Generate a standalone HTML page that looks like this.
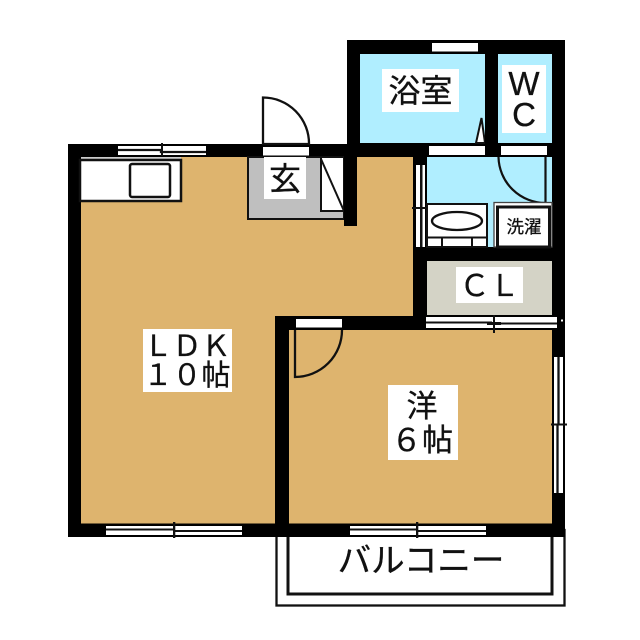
<!DOCTYPE html>
<html><head><meta charset="utf-8">
<style>html,body{margin:0;padding:0;background:#fff}svg{display:block}
text{font-family:"Liberation Sans","Noto Sans CJK JP",sans-serif;fill:#111;stroke:#111;stroke-width:.3;text-anchor:middle}</style></head>
<body>
<svg width="640" height="640" viewBox="0 0 640 640" xmlns="http://www.w3.org/2000/svg">
<rect width="640" height="640" fill="#fff"/>
<!-- balcony -->
<rect x="276.500" y="530" width="288" height="75.500" fill="#fff" stroke="#111" stroke-width="2.300"/>
<rect x="288" y="530" width="264" height="64" fill="#fff" stroke="#111" stroke-width="3"/>
<!-- walls base -->
<rect x="68" y="144" width="497" height="393" fill="#000"/>
<rect x="347" y="40" width="218" height="110" fill="#000"/>
<rect x="68" y="90" width="279" height="54" fill="#fff"/>
<!-- rooms -->
<path d="M81 157H344V226H357V157H413V316H275V523.500H81Z" fill="#DEB46E"/>
<rect x="289" y="330" width="263" height="193.500" fill="#DEB46E"/>
<rect x="360" y="54" width="125" height="89" fill="#B0EEFF"/>
<rect x="498" y="54" width="54" height="89" fill="#B0EEFF"/>
<rect x="427" y="157" width="125" height="90" fill="#B0EEFF"/>
<rect x="427" y="261" width="125" height="54" fill="#D4D3C6"/>
<!-- entrance -->
<rect x="248" y="157" width="96" height="62" fill="#BFBFBF" stroke="#111" stroke-width="2"/>
<rect x="321" y="157" width="23" height="54" fill="#fff" stroke="#111" stroke-width="2"/>
<path d="M321 159L344 211" stroke="#111" stroke-width="2" fill="none"/>
<rect x="344" y="144" width="13" height="82" fill="#000"/>
<rect x="264" y="157" width="42" height="42" fill="#fff"/>
<!-- entrance door -->
<path d="M263 144V97.500A46 46 0 0 1 309 144Z" fill="#fff" stroke="#111" stroke-width="2.300"/>
<rect x="263" y="147" width="46" height="8.500" fill="#fff"/>
<!-- kitchen -->
<rect x="81" y="157" width="100" height="3" fill="#ccc"/>
<rect x="80" y="160" width="101" height="41" fill="#fff" stroke="#111" stroke-width="2.500"/>
<rect x="130" y="164" width="40" height="33" rx="2" fill="#fff" stroke="#111" stroke-width="2.500"/>
<!-- kitchen window -->
<rect x="118" y="146" width="88" height="9" fill="#fff"/>
<path d="M118 150H161V152H206" stroke="#111" stroke-width="2.300" fill="none"/>
<rect x="161" y="143" width="2" height="13" fill="#111"/>
<!-- bath top window -->
<rect x="432" y="43" width="46" height="8.500" fill="#fff"/>
<rect x="429" y="146" width="56" height="9" fill="#fff"/>
<rect x="501" y="146" width="46" height="9" fill="#fff"/>
<!-- bath door sliver -->
<path d="M476 143L481.500 118L485 143Z" fill="#fff" stroke="#111" stroke-width="2"/>
<rect x="485" y="54" width="13" height="103" fill="#000"/>
<!-- wc door -->
<path d="M498.500 157A47 47 0 0 0 545.500 203V157" fill="none" stroke="#111" stroke-width="2.200"/>
<!-- left small window -->
<rect x="416" y="165" width="9" height="82" fill="#fff"/>
<rect x="420" y="165" width="2.500" height="82" fill="#111"/>
<rect x="412" y="207" width="14" height="2" fill="#111"/>
<!-- tub -->
<rect x="427" y="204" width="60" height="43" fill="#fff" stroke="#111" stroke-width="2"/>
<ellipse cx="457" cy="221" rx="25" ry="9" fill="#fff" stroke="#111" stroke-width="2.300"/>
<path d="M427 237.500H487M442 237.500V247M472 237.500V247" stroke="#111" stroke-width="2" fill="none"/>
<!-- washer -->
<rect x="494" y="202.500" width="58" height="44.500" fill="#fff" stroke="#444" stroke-width="1.300"/>
<rect x="497.500" y="207" width="52" height="40" fill="#fff" stroke="#111" stroke-width="3"/>
<!-- CL lower window -->
<rect x="426" y="317" width="131" height="11" fill="#fff"/>
<path d="M426 322.500H492M492 323.500H557" stroke="#111" stroke-width="2" fill="none"/>
<rect x="493" y="315" width="2" height="18" fill="#111"/>
<rect x="487" y="322" width="14" height="3" fill="#111"/>
<rect x="561" y="319.500" width="2" height="2" fill="#fff"/>
<!-- western room door -->
<rect x="296" y="319" width="46" height="8.500" fill="#fff"/>
<path d="M295 330V377A47 47 0 0 0 342 330" fill="none" stroke="#111" stroke-width="2.300"/>
<!-- right window -->
<rect x="554" y="357" width="9" height="136" fill="#fff"/>
<path d="M558.500 357V424M557.500 424V493" stroke="#111" stroke-width="2.300" fill="none"/>
<rect x="551" y="423.500" width="16" height="2" fill="#111"/>
<!-- bottom windows -->
<rect x="106" y="526" width="136" height="9" fill="#fff"/>
<path d="M106 529.500H174V531H242" stroke="#111" stroke-width="2" fill="none"/>
<rect x="173" y="522" width="2.300" height="16" fill="#111"/>
<rect x="350" y="526" width="136" height="9" fill="#fff"/>
<path d="M350 529.500H417V531H486" stroke="#111" stroke-width="2" fill="none"/>
<rect x="416" y="522" width="2.300" height="16" fill="#111"/>
<!-- label backgrounds -->
<rect x="382" y="69" width="77" height="43" fill="#fff"/>
<rect x="502" y="65" width="44" height="68" fill="#fff"/>
<rect x="456" y="267" width="67" height="36" fill="#fff"/>
<rect x="143" y="329" width="89" height="63" fill="#fff"/>
<rect x="388" y="385" width="70" height="75" fill="#fff"/>
<!-- labels -->
<text x="420.500" y="102" font-size="32">浴室</text>
<text x="524" y="95" font-size="33">W</text>
<text x="524" y="126" font-size="33">C</text>
<text x="285" y="190" font-size="32">玄</text>
<text x="524" y="233" font-size="17.500">洗濯</text>
<text x="489.500" y="296" font-size="30">ＣＬ</text>
<text x="187" y="356" font-size="29">ＬＤＫ</text>
<text x="187" y="385" font-size="29">１０帖</text>
<text x="422" y="417" font-size="31">洋</text>
<text x="422" y="451" font-size="31">６帖</text>
<text x="421" y="572" font-size="33.500">バルコニー</text>
</svg>
</body></html>
